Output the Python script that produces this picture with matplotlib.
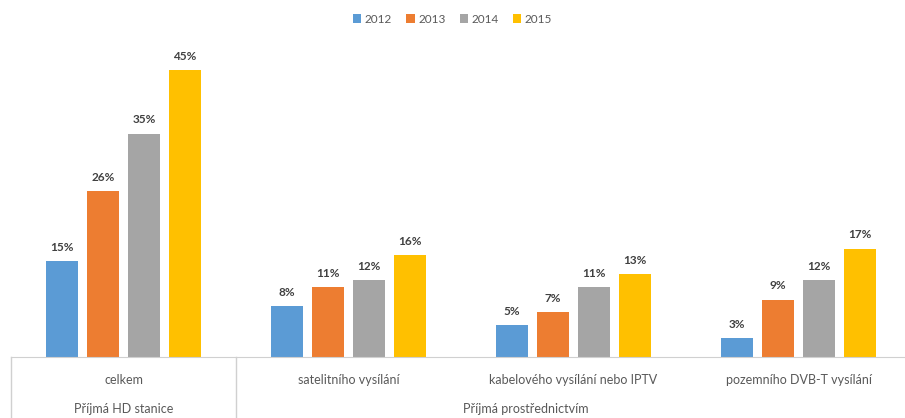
import matplotlib
matplotlib.use("Agg")
import matplotlib.pyplot as plt
import numpy as np

plt.rcParams['font.family'] = ['Lato', 'DejaVu Sans']

## Data
categories = ["celkem", "satelitního vysílání", "kabelového vysílání nebo IPTV", "pozemního DVB-T vysílání"]
groups = ["Příjmá HD stanice", "Příjmá prostřednictvím"]
years = ["2012", "2013", "2014", "2015"]
v2012 = [15, 8, 5, 3]
v2013 = [26, 11, 7, 9]
v2014 = [35, 12, 11, 12]
v2015 = [45, 16, 13, 17]
series = [v2012, v2013, v2014, v2015]
colors = ["#5B9BD5", "#ED7D31", "#A5A5A5", "#FFC000"]

W, H = 905, 418
fig = plt.figure(figsize=(W / 100, H / 100), dpi=100)
# plot area in pixels: left 11, baseline at y=357, 50% at 38
ax = fig.add_axes([11 / W, 1 - 357 / H, (W - 11) / W, 319 / H])
ax.set_xlim(-0.5, -0.5 + (W - 11) / 225)
ax.set_ylim(0, 50)

x = np.arange(len(categories))
step = 0.182
width = 0.142
for i, (vals, col, yr) in enumerate(zip(series, colors, years)):
    pos = x + (i - 1.5) * step
    bars = ax.bar(pos, vals, width, color=col, label=yr, zorder=2)
    for b, v in zip(bars, vals):
        ax.text(b.get_x() + b.get_width() / 2, v + 1.3, f"{v}%", ha="center", va="bottom",
                fontsize=8.5, fontweight="bold", color="#404040")

for s in ["top", "right", "left"]:
    ax.spines[s].set_visible(False)
ax.spines["bottom"].set_color("#d0d0d0")
ax.set_yticks([])
ax.set_xticks([])

# category labels and group labels
tr = ax.get_xaxis_transform()
for xi, c in zip(x, categories):
    ax.text(xi, -23 / 319, c, transform=tr, ha="center", va="center", fontsize=9, color="#595959")
ax.text(0, -52 / 319, groups[0], transform=tr, ha="center", va="center", fontsize=9, color="#595959")
ax.text(1.79, -52 / 319, groups[1], transform=tr, ha="center", va="center", fontsize=9, color="#595959")

# separator lines of the multi-level axis
for xs in [-0.5, 0.5]:
    ax.plot([xs, xs], [0, -70 / 319], transform=tr, color="#d0d0d0", lw=1, clip_on=False)

leg = fig.legend(loc="upper center", bbox_to_anchor=(0.5, 0.993), ncol=4, frameon=False,
                 fontsize=8.5, handlelength=0.7, handleheight=0.7, handletextpad=0.3,
                 columnspacing=1.2, labelcolor="#595959")

fig.savefig("out.png", dpi=100)
